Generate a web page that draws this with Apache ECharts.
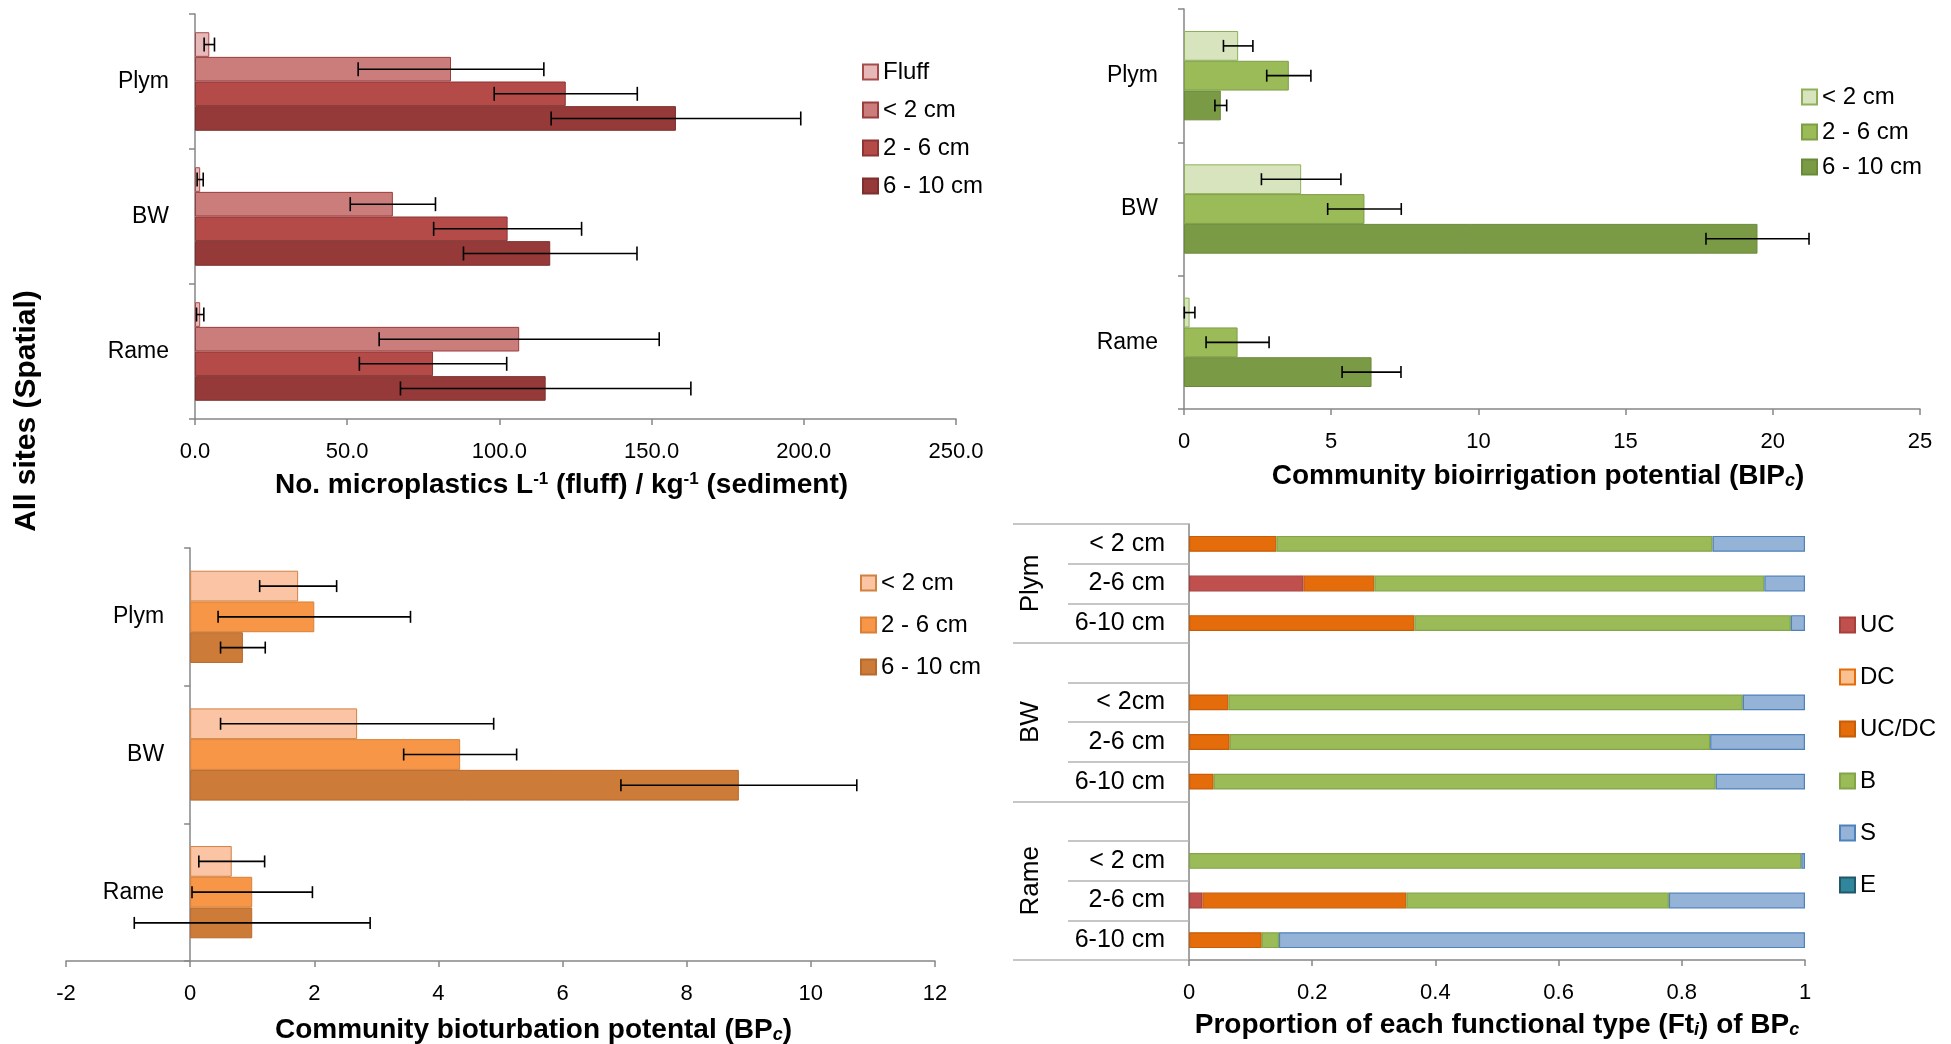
<!DOCTYPE html>
<html>
<head>
<meta charset="utf-8">
<title>All sites (Spatial)</title>
<script src="https://cdn.jsdelivr.net/npm/echarts@6/dist/echarts.min.js"></script>
<style>
html, body { margin: 0; padding: 0; background: #fff; }
#chart { width: 1951px; height: 1044px; }
</style>
</head>
<body>
<div id="chart"></div>
<script>
var sites = ['Plym', 'BW', 'Rame'];

// top left: microplastics per depth
var mpNames = ['Fluff', '< 2 cm', '2 - 6 cm', '6 - 10 cm'];
var mpFluff = [4.7, 1.7, 1.7];
var mpFluffErr = [1.7, 1.0, 1.2];
var mpLt2 = [84.1, 65.0, 106.5];
var mpLt2Err = [30.5, 14.0, 46.0];
var mp2to6 = [121.8, 102.7, 78.2];
var mp2to6Err = [23.5, 24.3, 24.2];
var mp6to10 = [158.0, 116.7, 115.2];
var mp6to10Err = [41.0, 28.5, 47.7];

// top right: bioirrigation potential
var depthNames = ['< 2 cm', '2 - 6 cm', '6 - 10 cm'];
var bipLt2 = [1.84, 3.98, 0.19];
var bipLt2Err = [0.5, 1.35, 0.18];
var bip2to6 = [3.56, 6.13, 1.82];
var bip2to6Err = [0.75, 1.25, 1.07];
var bip6to10 = [1.25, 19.48, 6.37];
var bip6to10Err = [0.2, 1.75, 1.0];

// bottom left: bioturbation potential
var bpLt2 = [1.74, 2.69, 0.67];
var bpLt2Err = [0.62, 2.2, 0.53];
var bp2to6 = [2.0, 4.35, 1.0];
var bp2to6Err = [1.55, 0.91, 0.97];
var bp6to10 = [0.85, 8.84, 1.0];
var bp6to10Err = [0.36, 1.9, 1.9];

// bottom right: functional type proportions, 3 rows per site
var ftRows = ['< 2 cm', '2-6 cm', '6-10 cm', '< 2cm', '2-6 cm', '6-10 cm', '< 2 cm', '2-6 cm', '6-10 cm'];
var ftTypes = ['UC', 'DC', 'UC/DC', 'B', 'S', 'E'];
var ftUC = [0, 0.186, 0, 0, 0, 0, 0, 0.022, 0];
var ftDC = [0, 0, 0, 0, 0, 0, 0, 0, 0];
var ftUCDC = [0.142, 0.115, 0.366, 0.064, 0.066, 0.040, 0, 0.331, 0.118];
var ftB = [0.708, 0.633, 0.611, 0.835, 0.780, 0.815, 0.994, 0.426, 0.028];
var ftS = [0.150, 0.066, 0.023, 0.101, 0.154, 0.145, 0.006, 0.221, 0.854];
var ftE = [0, 0, 0, 0, 0, 0, 0, 0, 0];

var FONT = "'Liberation Sans', Arial, sans-serif";
var GREY = '#868686';

var grids = [
	{ left: 195, top: 14, width: 761, height: 405 },
	{ left: 1184, top: 9, width: 736, height: 400 },
	{ left: 66, top: 548, width: 869, height: 413 },
	{ left: 1189, top: 524, width: 616, height: 436 }
];
grids.forEach(function(g) { g.containLabel = false; g.outerBoundsMode = 'none'; });

function barSeries(key, name, values, xi, gap, color, border) {
	return {
		type: 'bar',
		name: key + ':' + name,
		xAxisIndex: xi,
		yAxisIndex: xi,
		data: values,
		barGap: 0,
		barCategoryGap: gap,
		itemStyle: { color: color, borderColor: border, borderWidth: 1 },
		emphasis: { disabled: true }
	};
}

// whiskers drawn on the same axes, shifted to the centre of their bar
function errSeries(values, errs, xi, idx, count, gap, cap) {
	var g = parseFloat(gap) / 100;
	return {
		type: 'custom',
		xAxisIndex: xi,
		yAxisIndex: xi,
		z: 5,
		silent: true,
		encode: { x: 0, y: 1 },
		data: values.map(function(v, i) { return [v, i, errs[i]]; }),
		renderItem: function(params, api) {
			var v = api.value(0), cat = api.value(1), e = api.value(2);
			var band = api.size([0, 1])[1];
			var w = band * (1 - g) / count;
			var off = -band * (1 - g) / 2 + (idx + 0.5) * w;
			var a = api.coord([v - e, cat]);
			var b = api.coord([v + e, cat]);
			var y = a[1] + off;
			var st = { stroke: '#000', lineWidth: 1.6 };
			return {
				type: 'group',
				children: [
					{ type: 'line', shape: { x1: a[0], y1: y, x2: b[0], y2: y }, style: st },
					{ type: 'line', shape: { x1: a[0], y1: y - cap / 2, x2: a[0], y2: y + cap / 2 }, style: st },
					{ type: 'line', shape: { x1: b[0], y1: y - cap / 2, x2: b[0], y2: y + cap / 2 }, style: st }
				]
			};
		}
	};
}

// category axis of sites; offset moves it onto x = 0 when the value axis starts below zero
function siteAxis(gi, xmin, xmax) {
	var off = 0;
	if (xmin < 0) off = -grids[gi].width * (0 - xmin) / (xmax - xmin);
	return {
		type: 'category',
		gridIndex: gi,
		position: 'left',
		offset: off,
		data: sites,
		inverse: true,
		axisLine: { onZero: false, lineStyle: { color: GREY, width: 1.5 } },
		axisTick: { show: true, length: 6, lineStyle: { color: GREY, width: 1.5 } },
		axisLabel: { fontSize: 23, color: '#000', margin: 26, fontFamily: FONT }
	};
}

function nameRich(size) {
	return {
		rich: {
			t: { fontSize: size, fontWeight: 'bold', color: '#000', fontFamily: FONT },
			s: { fontSize: 17, fontWeight: 'bold', color: '#000', fontFamily: FONT, verticalAlign: 'top' },
			i: { fontSize: 18, fontWeight: 'bold', fontStyle: 'italic', color: '#000', fontFamily: FONT, verticalAlign: 'bottom' }
		}
	};
}

function valueAxis(gi, min, max, interval, name, size, gap, fmt, pad) {
	var nts = nameRich(size);
	if (pad) nts.padding = pad;
	return {
		type: 'value',
		gridIndex: gi,
		min: min,
		max: max,
		interval: interval,
		name: name,
		nameLocation: 'middle',
		nameGap: gap,
		nameTextStyle: nts,
		splitLine: { show: false },
		axisLine: { show: true, onZero: false, lineStyle: { color: GREY, width: 1.5 } },
		axisTick: { show: true, length: 6, lineStyle: { color: GREY, width: 1.5 } },
		axisLabel: { fontSize: 22, color: '#000', margin: 22, fontFamily: FONT, formatter: fmt }
	};
}

function legend(key, names, left, top, gap) {
	return {
		data: names.map(function(n) { return key + ':' + n; }),
		orient: 'vertical',
		left: left,
		top: top,
		padding: 0,
		itemGap: gap,
		itemWidth: 15,
		itemHeight: 15,
		icon: 'rect',
		selectedMode: false,
		formatter: function(n) { return n.split(':')[1]; },
		textStyle: { fontSize: 24, color: '#000', fontFamily: FONT }
	};
}

// 11 slots: 3 rows per site with an empty slot before BW and Rame
var groupSlots = [[0, 3], [3, 7], [7, 11]];
function slotted(arr) {
	var out = [];
	for (var i = 0; i < arr.length; i++) {
		if (i == 3 || i == 6) out.push(null);
		out.push(arr[i]);
	}
	return out;
}
var ftLabels = slotted(ftRows).map(function(l) { return l === null ? '' : l; });
var groupStarts = groupSlots.map(function(g) { return g[0]; });
var groupCenters = groupSlots.map(function(g) { return (g[0] + g[1]) / 2; });

function ftSeries(name, values, color, border) {
	return {
		type: 'bar',
		name: 'ft:' + name,
		xAxisIndex: 3,
		yAxisIndex: 3,
		stack: 'ft',
		barCategoryGap: '60%',
		data: slotted(values).map(function(v) { return (v === null || v === 0) ? '-' : v; }),
		itemStyle: { color: color, borderColor: border, borderWidth: 1.2 },
		emphasis: { disabled: true }
	};
}

var chart = echarts.init(document.getElementById('chart'));

var option = {
	animation: false,
	backgroundColor: '#fff',
	textStyle: { fontFamily: FONT },
	grid: grids,
	legend: [
		legend('mp', mpNames, 862, 60, 14),
		legend('bip', depthNames, 1801, 85, 11),
		legend('bp', depthNames, 860, 571, 18),
		legend('ft', ftTypes, 1839, 613, 28)
	],
	graphic: [{
		type: 'text',
		x: 27,
		y: 411,
		rotation: Math.PI / 2,
		style: {
			text: 'All sites (Spatial)',
			fontSize: 30,
			fontWeight: 'bold',
			fontFamily: FONT,
			fill: '#000',
			align: 'center',
			verticalAlign: 'middle'
		}
	}],
	xAxis: [
		valueAxis(0, 0, 250, 50, '{t|No. microplastics L}{s|-1}{t| (fluff) / kg}{s|-1}{t| (sediment)}', 28, 52,
			function(v) { return v.toFixed(1); }, [0, 28, 0, 0]),
		valueAxis(1, 0, 25, 5, '{t|Community bioirrigation potential (BIP}{i|c}{t|)}', 28, 53, null, [0, 28, 0, 0]),
		valueAxis(2, -2, 12, 2, '{t|Community bioturbation potental (BP}{i|c}{t|)}', 28, 55, null, [0, 0, 0, 66]),
		valueAxis(3, 0, 1, 0.2, '{t|Proportion of each functional type (Ft}{i|i}{t|) of BP}{i|c}', 28, 51)
	],
	yAxis: [
		siteAxis(0, 0, 250),
		siteAxis(1, 0, 25),
		siteAxis(2, -2, 12),
		{
			type: 'category',
			gridIndex: 3,
			position: 'left',
			data: ftLabels,
			inverse: true,
			axisLine: { onZero: false, lineStyle: { color: GREY, width: 1.5 } },
			axisTick: { show: true, interval: 0, length: 121, lineStyle: { color: '#b4b4b4', width: 1.5 } },
			axisLabel: { interval: 0, fontSize: 25, color: '#000', margin: 24, fontFamily: FONT }
		},
		{
			type: 'category',
			gridIndex: 3,
			position: 'left',
			data: ftLabels,
			inverse: true,
			axisLine: { show: false, onZero: false },
			axisLabel: { show: false },
			axisTick: {
				show: true,
				interval: function(i) { return groupStarts.indexOf(i) >= 0; },
				length: 176,
				lineStyle: { color: '#b4b4b4', width: 1.5 }
			}
		},
		{
			type: 'value',
			gridIndex: 3,
			position: 'left',
			min: 0,
			max: 11,
			interval: 0.5,
			inverse: true,
			splitLine: { show: false },
			axisLine: { show: false, onZero: false },
			axisTick: { show: false },
			axisLabel: {
				rotate: 90,
				margin: 145,
				fontSize: 26,
				color: '#000',
				fontFamily: FONT,
				formatter: function(v) {
					var k = groupCenters.indexOf(v);
					return k >= 0 ? sites[k] : '';
				}
			}
		}
	],
	series: [
		barSeries('mp', mpNames[0], mpFluff, 0, '27%', '#e6b9b8', '#a54b49'),
		barSeries('mp', mpNames[1], mpLt2, 0, '27%', '#cb7d7c', '#9a3d3b'),
		barSeries('mp', mpNames[2], mp2to6, 0, '27%', '#b44b49', '#8c3533'),
		barSeries('mp', mpNames[3], mp6to10, 0, '27%', '#953a38', '#7e2f2d'),
		errSeries(mpFluff, mpFluffErr, 0, 0, 4, '27%', 14),
		errSeries(mpLt2, mpLt2Err, 0, 1, 4, '27%', 14),
		errSeries(mp2to6, mp2to6Err, 0, 2, 4, '27%', 14),
		errSeries(mp6to10, mp6to10Err, 0, 3, 4, '27%', 14),

		barSeries('bip', depthNames[0], bipLt2, 1, '33%', '#d7e4bd', '#8fb05a'),
		barSeries('bip', depthNames[1], bip2to6, 1, '33%', '#9bbb59', '#7e9e45'),
		barSeries('bip', depthNames[2], bip6to10, 1, '33%', '#7b9a45', '#6a8a38'),
		errSeries(bipLt2, bipLt2Err, 1, 0, 3, '33%', 12),
		errSeries(bip2to6, bip2to6Err, 1, 1, 3, '33%', 12),
		errSeries(bip6to10, bip6to10Err, 1, 2, 3, '33%', 12),

		barSeries('bp', depthNames[0], bpLt2, 2, '33%', '#fac4a5', '#d2823f'),
		barSeries('bp', depthNames[1], bp2to6, 2, '33%', '#f79646', '#d98038'),
		barSeries('bp', depthNames[2], bp6to10, 2, '33%', '#cd7b38', '#b8692c'),
		errSeries(bpLt2, bpLt2Err, 2, 0, 3, '33%', 12),
		errSeries(bp2to6, bp2to6Err, 2, 1, 3, '33%', 12),
		errSeries(bp6to10, bp6to10Err, 2, 2, 3, '33%', 12),

		ftSeries(ftTypes[0], ftUC, '#c0504d', '#a5403d'),
		ftSeries(ftTypes[1], ftDC, '#fac090', '#e46c0a'),
		ftSeries(ftTypes[2], ftUCDC, '#e46c0a', '#c65d08'),
		ftSeries(ftTypes[3], ftB, '#9bbb59', '#82a548'),
		ftSeries(ftTypes[4], ftS, '#95b3d7', '#4f81bd'),
		ftSeries(ftTypes[5], ftE, '#31859c', '#215968')
	]
};

chart.setOption(option);
</script>
</body>
</html>
